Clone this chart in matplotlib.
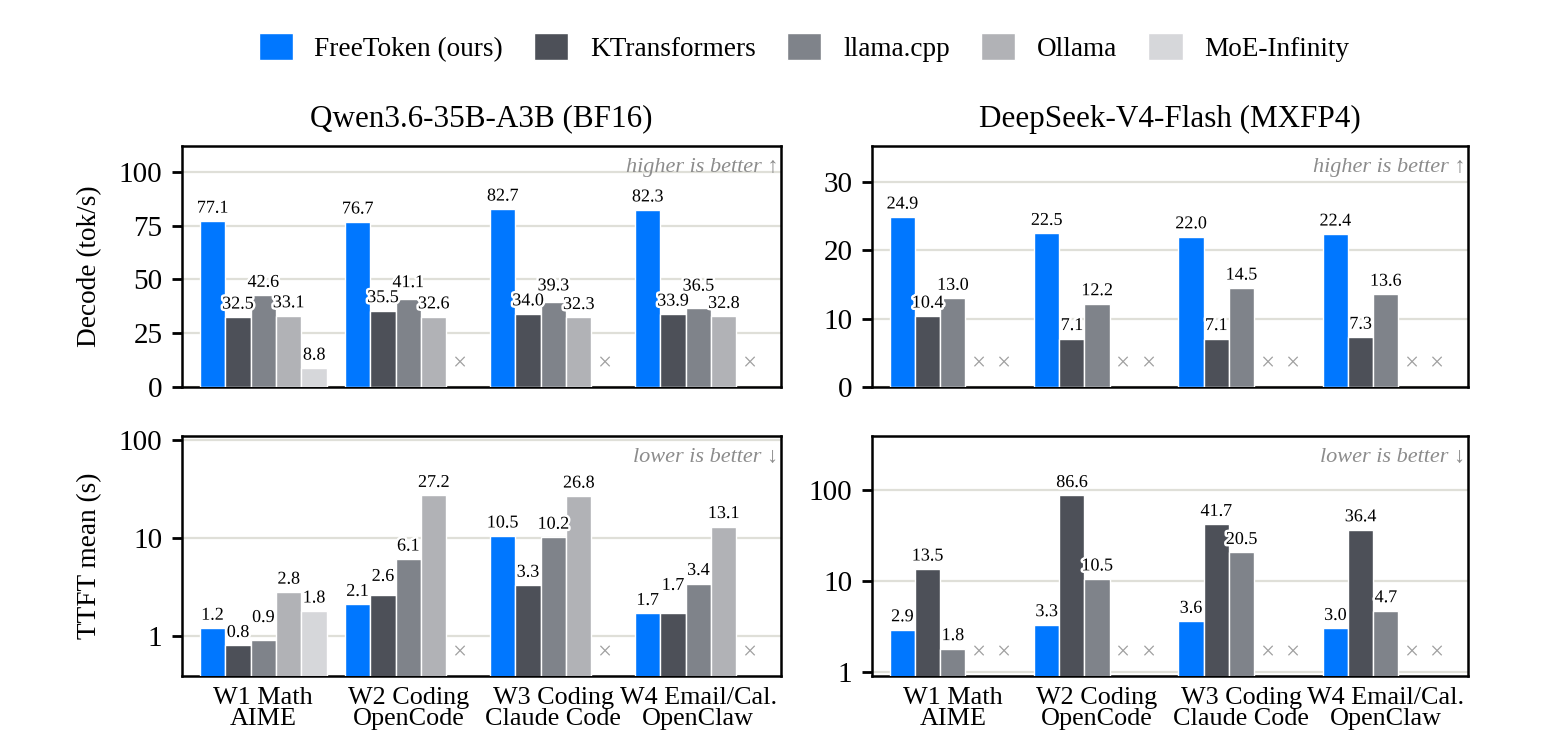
import matplotlib
matplotlib.use("Agg")
import matplotlib.pyplot as plt
import matplotlib.patheffects as pe
import numpy as np

plt.rcParams['font.family'] = ['Liberation Serif', 'DejaVu Serif']

systems = ["FreeToken (ours)", "KTransformers", "llama.cpp", "Ollama", "MoE-Infinity"]
colors = ["#0077ff", "#4d5058", "#7f838a", "#b1b2b6", "#d6d7da"]
workloads = ["W1 Math\nAIME", "W2 Coding\nOpenCode", "W3 Coding\nClaude Code", "W4 Email/Cal.\nOpenClaw"]

# None = system could not run this workload
qwen_decode = [
    [77.1, 76.7, 82.7, 82.3],
    [32.5, 35.5, 34.0, 33.9],
    [42.6, 41.1, 39.3, 36.5],
    [33.1, 32.6, 32.3, 32.8],
    [8.8, None, None, None],
]
qwen_ttft = [
    [1.2, 2.1, 10.5, 1.7],
    [0.8, 2.6, 3.3, 1.7],
    [0.9, 6.1, 10.2, 3.4],
    [2.8, 27.2, 26.8, 13.1],
    [1.8, None, None, None],
]
ds_decode = [
    [24.9, 22.5, 22.0, 22.4],
    [10.4, 7.1, 7.1, 7.3],
    [13.0, 12.2, 14.5, 13.6],
    [None, None, None, None],
    [None, None, None, None],
]
ds_ttft = [
    [2.9, 3.3, 3.6, 3.0],
    [13.5, 86.6, 41.7, 36.4],
    [1.8, 10.5, 20.5, 4.7],
    [None, None, None, None],
    [None, None, None, None],
]

fig = plt.figure(figsize=(7.79, 3.76), dpi=200)
W, H = 1558, 752
def box(l, t, r, b):
    return [l / W, 1 - b / H, (r - l) / W, (b - t) / H]

ax_tl = fig.add_axes(box(182, 146, 781, 387))
ax_tr = fig.add_axes(box(872, 146, 1468, 387))
ax_bl = fig.add_axes(box(182, 436, 781, 676))
ax_br = fig.add_axes(box(872, 436, 1468, 676))

bw = 0.175
x = np.arange(len(workloads))
stroke = [pe.withStroke(linewidth=1.8, foreground="white")]
LABEL_GAP = 13   # px from bar top to label centre
LABEL_H = 15     # px, min vertical distance between neighbouring labels


def draw(ax, data, ylim, log=False):
    if log:
        ax.set_yscale("log")
        ax.set_yticks([1, 10, 100])
        ax.set_yticklabels(["1", "10", "100"])
        ax.minorticks_off()
    ax.set_ylim(*ylim)
    ax.set_xlim(-0.56, 3.57)
    for i, series in enumerate(data):
        for xi, v in zip(x + (i - 2) * bw, series):
            if v is None:
                ax.text(xi, 0.095, "\u00d7", transform=ax.get_xaxis_transform(),
                        ha="center", va="center", fontsize=9, color="#a0a0a0")
            else:
                ax.bar(xi, v, width=bw, color=colors[i], edgecolor="white",
                       linewidth=0.5, zorder=3)
    # value labels, nudged up when they would collide with the left neighbour
    for g in range(len(x)):
        prev = None
        for i, series in enumerate(data):
            v = series[g]
            if v is None:
                continue
            xi = x[g] + (i - 2) * bw
            top = ax.transData.transform((xi, v))[1]
            yc = top + LABEL_GAP
            if prev is not None and abs(yc - prev) < LABEL_H:
                yc = prev + LABEL_H
            prev = yc
            ax.annotate(f"{v:.1f}", (xi, v), xytext=(0, yc - top), textcoords="offset pixels",
                        ha="center", va="center", fontsize=6.5, zorder=5,
                        path_effects=stroke)
    ax.grid(axis="y", color="#dfdfd8", linewidth=0.8, zorder=0)
    ax.set_axisbelow(True)
    ax.set_xticks(x)
    ax.tick_params(axis="x", length=0, pad=4)
    ax.tick_params(axis="y", labelsize=10.5, width=1, length=3.5)
    for s in ax.spines.values():
        s.set_linewidth(0.9)


draw(ax_tl, qwen_decode, (0, 112))
draw(ax_tr, ds_decode, (0, 35.3))
draw(ax_bl, qwen_ttft, (0.39, 110), log=True)
draw(ax_br, ds_ttft, (0.9, 390), log=True)

ax_tl.set_yticks([0, 25, 50, 75, 100])
ax_tr.set_yticks([0, 10, 20, 30])

for ax in (ax_tl, ax_tr):
    ax.set_xticklabels([])
    ax.text(0.995, 0.95, "higher is better \u2191", transform=ax.transAxes, ha="right",
            va="top", fontsize=8, style="italic", color="#8c8c8c")
for ax in (ax_bl, ax_br):
    ax.set_xticklabels(workloads, fontsize=9.4, linespacing=0.95)
    ax.text(0.995, 0.95, "lower is better \u2193", transform=ax.transAxes, ha="right",
            va="top", fontsize=8, style="italic", color="#8c8c8c")

ax_tl.set_title("Qwen3.6-35B-A3B (BF16)", fontsize=11.2, pad=7)
ax_tr.set_title("DeepSeek-V4-Flash (MXFP4)", fontsize=11.2, pad=7)
ax_tl.set_ylabel("Decode (tok/s)", fontsize=9.8, labelpad=6)
ax_bl.set_ylabel("TTFT mean (s)", fontsize=9.8, labelpad=6)

handles = [plt.Rectangle((0, 0), 1, 1, facecolor=c, edgecolor="white", linewidth=0.5)
           for c in colors]
fig.legend(handles, systems, loc="center", bbox_to_anchor=(0.516, 0.937), ncol=5,
           frameon=False, fontsize=9.8, handlelength=1.25, handleheight=1.15,
           columnspacing=1.15, handletextpad=0.8)

fig.savefig("out.png", dpi=200)
